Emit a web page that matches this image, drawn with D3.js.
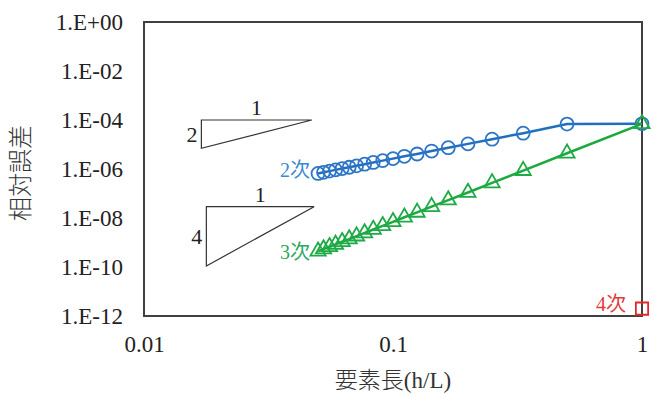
<!DOCTYPE html>
<html lang="ja">
<head>
<meta charset="utf-8">
<style>
    body { margin: 0; background: #fff; }
    svg { display: block; font-family: "Liberation Serif", "Noto Sans CJK JP", serif; }
</style>
</head>
<body>
<svg></svg>
<script src="https://d3js.org/d3.v7.min.js"></script>
<script>
    // element length h/L (1/n, n = 1..20)
    var elemLength = [1, 0.5, 0.3333, 0.25, 0.2, 0.1667, 0.1429, 0.125, 0.1111, 0.1,
        0.0909, 0.0833, 0.0769, 0.0714, 0.0667, 0.0625, 0.0588, 0.0556, 0.0526, 0.05];
    // relative error, 2nd order elements
    var err2 = [7.0e-5, 6.8e-5, 2.9e-5, 1.65e-5, 1.06e-5, 7.4e-6, 5.4e-6, 4.1e-6, 3.3e-6, 2.65e-6,
        2.2e-6, 1.85e-6, 1.57e-6, 1.35e-6, 1.18e-6, 1.04e-6, 9.2e-7, 8.2e-7, 7.3e-7, 6.6e-7];
    // relative error, 3rd order elements
    var err3 = [7.0e-5, 4.4e-6, 8.6e-7, 2.7e-7, 1.1e-7, 5.4e-8, 2.9e-8, 1.7e-8, 1.07e-8, 7.0e-9,
        4.8e-9, 3.4e-9, 2.45e-9, 1.82e-9, 1.38e-9, 1.07e-9, 8.4e-10, 6.7e-10, 5.4e-10, 4.4e-10];
    // 4th order: one element only
    var elemLength4 = [1];
    var err4 = [2.0e-12];

    var xTickValues = [0.01, 0.1, 1];
    var xTickLabels = ["0.01", "0.1", "1"];
    var yTickValues = [1, 1e-2, 1e-4, 1e-6, 1e-8, 1e-10, 1e-12];
    var yTickLabels = ["1.E+00", "1.E-02", "1.E-04", "1.E-06", "1.E-08", "1.E-10", "1.E-12"];

    // slope guide triangles (corners in data units)
    var slope2Tri = [[0.0170, 1e-4], [0.0170, 7.0e-6], [0.0472, 1e-4]];
    var slope4Tri = [[0.0178, 2.9e-8], [0.0178, 1.1e-10], [0.0482, 2.9e-8]];

    var width = 654;
    var height = 394;
    var x = d3.scaleLog().domain([0.01, 1]).range([144, 642]);
    var y = d3.scaleLog().domain([1e-12, 1]).range([316, 22]);

    var svg = d3.select('svg')
        .attr("width", width)
        .attr("height", height);

    // y axis labels
    svg.append("g")
        .attr("transform", "translate(" + x.range()[0] + ",0)")
        .call(d3.axisLeft(y).tickValues(yTickValues).tickSize(0).tickPadding(21)
            .tickFormat(function (d, i) { return yTickLabels[i]; }))
        .call(function (g) { g.select(".domain").remove(); })
        .selectAll("text")
        .attr("font-size", 23)
        .attr("font-family", "Liberation Serif")
        .attr("fill", "#222");

    // x axis labels
    svg.append("g")
        .attr("transform", "translate(0," + y.range()[0] + ")")
        .call(d3.axisBottom(x).tickValues(xTickValues).tickSize(0).tickPadding(20)
            .tickFormat(function (d, i) { return xTickLabels[i]; }))
        .call(function (g) { g.select(".domain").remove(); })
        .selectAll("text")
        .attr("font-size", 23)
        .attr("font-family", "Liberation Serif")
        .attr("fill", "#222");

    // plot frame
    svg.append("rect")
        .attr("x", x.range()[0])
        .attr("y", y.range()[1])
        .attr("width", x.range()[1] - x.range()[0])
        .attr("height", y.range()[0] - y.range()[1])
        .attr("fill", "none")
        .attr("stroke", "#404040")
        .attr("stroke-width", 2);

    // axis titles
    var xTitle = svg.append("text")
        .attr("x", (x.range()[0] + x.range()[1]) / 2)
        .attr("y", 388)
        .attr("text-anchor", "middle")
        .attr("font-size", 23)
        .attr("fill", "#333");
    xTitle.append("tspan").attr("font-family", "Noto Sans CJK JP").attr("font-weight", 300).text("要素長");
    xTitle.append("tspan").attr("font-family", "Liberation Serif").text("(h/L)");

    svg.append("text")
        .attr("transform", "translate(29,173) rotate(-90)")
        .attr("text-anchor", "middle")
        .attr("font-size", 24)
        .attr("font-weight", 300)
        .attr("fill", "#333")
        .text("相対誤差");

    // slope triangles
    var tri = d3.line().x(function (d) { return x(d[0]); }).y(function (d) { return y(d[1]); });
    [slope2Tri, slope4Tri].forEach(function (t) {
        svg.append("path")
            .attr("d", tri(t) + "Z")
            .attr("fill", "none")
            .attr("stroke", "#333")
            .attr("stroke-width", 1.2);
    });
    svg.append("text").attr("x", x(Math.sqrt(slope2Tri[0][0] * slope2Tri[2][0]))).attr("y", y(slope2Tri[0][1]) - 5)
        .attr("text-anchor", "middle").attr("font-size", 22).attr("fill", "#222").text("1");
    svg.append("text").attr("x", x(slope2Tri[0][0]) - 4).attr("y", y(Math.sqrt(slope2Tri[0][1] * slope2Tri[1][1])) + 8)
        .attr("text-anchor", "end").attr("font-size", 22).attr("fill", "#222").text("2");
    svg.append("text").attr("x", x(Math.sqrt(slope4Tri[0][0] * slope4Tri[2][0]))).attr("y", y(slope4Tri[0][1]) - 5)
        .attr("text-anchor", "middle").attr("font-size", 22).attr("fill", "#222").text("1");
    svg.append("text").attr("x", x(slope4Tri[0][0]) - 4).attr("y", y(Math.sqrt(slope4Tri[0][1] * slope4Tri[1][1])) + 8)
        .attr("text-anchor", "end").attr("font-size", 22).attr("fill", "#222").text("4");

    var line = d3.line()
        .x(function (d, i) { return x(elemLength[i]); })
        .y(function (d) { return y(d); });

    // 2nd order series
    svg.append("path")
        .attr("d", line(err2))
        .attr("fill", "none")
        .attr("stroke", "#1f6fc0")
        .attr("stroke-width", 2.5);
    svg.append("g").selectAll("circle")
        .data(err2)
        .enter()
        .append("circle")
        .attr("cx", function (d, i) { return x(elemLength[i]); })
        .attr("cy", function (d) { return y(d); })
        .attr("r", 6.5)
        .attr("fill", "none")
        .attr("stroke", "#2e75c6")
        .attr("stroke-width", 1.8);

    // 3rd order series
    svg.append("path")
        .attr("d", line(err3))
        .attr("fill", "none")
        .attr("stroke", "#1aaa3c")
        .attr("stroke-width", 2.5);
    svg.append("g").selectAll("path")
        .data(err3)
        .enter()
        .append("path")
        .attr("d", d3.symbol(d3.symbolTriangle, 100))
        .attr("transform", function (d, i) { return "translate(" + x(elemLength[i]) + "," + y(d) + ")"; })
        .attr("fill", "none")
        .attr("stroke", "#1eaa46")
        .attr("stroke-width", 1.8);

    // 4th order point
    svg.append("g").selectAll("path")
        .data(err4)
        .enter()
        .append("path")
        .attr("d", d3.symbol(d3.symbolSquare, 150))
        .attr("transform", function (d, i) { return "translate(" + x(elemLength4[i]) + "," + y(d) + ")"; })
        .attr("fill", "none")
        .attr("stroke", "#e02828")
        .attr("stroke-width", 1.8);

    // series labels
    svg.append("text").attr("x", x(elemLength[19]) - 8).attr("y", y(err2[19]) + 4)
        .attr("text-anchor", "end").attr("font-size", 20).attr("fill", "#3a8ad0").text("2次");
    svg.append("text").attr("x", x(elemLength[19]) - 8).attr("y", y(err3[19]) + 8)
        .attr("text-anchor", "end").attr("font-size", 20).attr("fill", "#2aa860").text("3次");
    svg.append("text").attr("x", x(elemLength4[0]) - 16).attr("y", y(err4[0]) + 2)
        .attr("text-anchor", "end").attr("font-size", 20).attr("fill", "#e03a3a").text("4次");
</script>
</body>
</html>
